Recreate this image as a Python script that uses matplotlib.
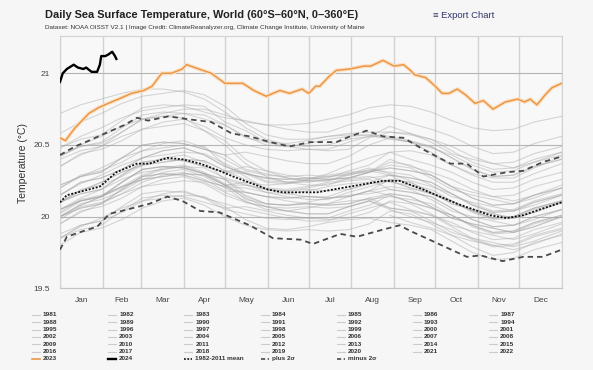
import matplotlib
matplotlib.use("Agg")
import matplotlib.pyplot as plt
from matplotlib.lines import Line2D

plt.rcParams['font.family'] = ['Liberation Sans', 'DejaVu Sans']

# month layout (day of year)
month_names = ['Jan', 'Feb', 'Mar', 'Apr', 'May', 'Jun', 'Jul', 'Aug', 'Sep', 'Oct', 'Nov', 'Dec']
month_starts = [0, 31, 59, 90, 120, 151, 181, 212, 243, 273, 304, 334, 365]
month_mids = [15.5, 45, 74.5, 105, 135.5, 166, 196.5, 227.5, 258, 288.5, 319, 349.5]

# sampling days for the grey years
gray_days = [0, 15, 30, 45, 60, 75, 90, 105, 120, 135, 150, 165, 180, 195, 210,
             225, 240, 255, 270, 285, 300, 315, 330, 345, 365]

# yearly SST (deg C)
y1981 = [20.01, 19.96, 19.92, 19.87, 19.79, 19.73, 19.75, 19.82, 19.87]  # from late Aug
y1982 = [19.85, 19.94, 19.97, 20.03, 20.11, 20.16, 20.18, 20.13, 20.05, 20.02, 19.99, 19.98, 19.99, 19.98, 19.99, 20.03, 20.11, 20.09, 20.02, 19.94, 19.90, 19.87, 19.84, 19.88, 19.95]
y1983 = [20.05, 20.11, 20.14, 20.24, 20.33, 20.35, 20.34, 20.30, 20.22, 20.13, 20.07, 20.04, 20.02, 20.02, 20.07, 20.11, 20.05, 20.00, 19.96, 19.91, 19.84, 19.79, 19.80, 19.86, 19.91]
y1984 = [19.85, 19.93, 19.99, 20.06, 20.11, 20.13, 20.15, 20.14, 20.07, 19.98, 19.92, 19.91, 19.93, 19.96, 19.98, 19.99, 19.96, 19.94, 19.91, 19.83, 19.75, 19.70, 19.71, 19.77, 19.82]
y1985 = [19.80, 19.89, 19.92, 19.98, 20.06, 20.11, 20.13, 20.08, 20.00, 19.94, 19.91, 19.90, 19.91, 19.90, 19.91, 19.95, 20.04, 20.02, 19.95, 19.87, 19.83, 19.80, 19.77, 19.81, 19.88]
y1986 = [19.85, 19.91, 19.94, 20.04, 20.13, 20.15, 20.14, 20.10, 20.06, 20.07, 20.04, 20.01, 19.99, 19.99, 20.04, 20.08, 20.15, 20.10, 20.06, 20.01, 19.94, 19.89, 19.90, 19.96, 20.01]
y1987 = [20.05, 20.13, 20.19, 20.26, 20.31, 20.33, 20.35, 20.34, 20.27, 20.23, 20.17, 20.16, 20.18, 20.21, 20.23, 20.24, 20.29, 20.27, 20.24, 20.16, 20.08, 20.03, 20.04, 20.10, 20.15]
y1988 = [20.10, 20.19, 20.22, 20.28, 20.36, 20.41, 20.43, 20.38, 20.26, 20.14, 20.09, 20.08, 20.09, 20.08, 20.09, 20.13, 20.06, 20.04, 19.97, 19.89, 19.85, 19.82, 19.79, 19.83, 19.90]
y1989 = [19.88, 19.94, 19.97, 20.07, 20.16, 20.18, 20.17, 20.13, 20.09, 20.05, 20.02, 19.99, 19.97, 19.97, 20.02, 20.06, 20.10, 20.05, 20.01, 19.96, 19.89, 19.84, 19.85, 19.91, 19.96]
y1990 = [20.00, 20.08, 20.14, 20.21, 20.26, 20.28, 20.30, 20.29, 20.22, 20.15, 20.09, 20.08, 20.10, 20.13, 20.15, 20.16, 20.19, 20.17, 20.14, 20.06, 19.98, 19.93, 19.94, 20.00, 20.05]
y1991 = [20.00, 20.09, 20.12, 20.18, 20.26, 20.31, 20.33, 20.28, 20.20, 20.17, 20.14, 20.13, 20.14, 20.13, 20.14, 20.18, 20.21, 20.19, 20.12, 20.04, 20.00, 19.97, 19.94, 19.98, 20.05]
y1992 = [20.00, 20.06, 20.09, 20.19, 20.28, 20.30, 20.29, 20.25, 20.21, 20.10, 20.07, 20.04, 20.02, 20.02, 20.07, 20.11, 20.06, 20.04, 20.01, 19.93, 19.85, 19.80, 19.81, 19.87, 19.92]
y1993 = [19.95, 20.03, 20.09, 20.16, 20.21, 20.23, 20.25, 20.24, 20.17, 20.11, 20.05, 20.04, 20.06, 20.09, 20.11, 20.12, 20.14, 20.12, 20.09, 20.01, 19.93, 19.88, 19.89, 19.95, 20.00]
y1994 = [19.98, 20.07, 20.10, 20.16, 20.24, 20.29, 20.31, 20.26, 20.18, 20.17, 20.14, 20.13, 20.14, 20.13, 20.14, 20.18, 20.26, 20.24, 20.17, 20.09, 20.05, 20.02, 19.99, 20.03, 20.10]
y1995 = [20.05, 20.11, 20.14, 20.24, 20.33, 20.35, 20.34, 20.30, 20.26, 20.17, 20.14, 20.11, 20.09, 20.09, 20.14, 20.18, 20.15, 20.10, 20.06, 20.01, 19.94, 19.89, 19.90, 19.96, 20.01]
y1996 = [19.95, 20.04, 20.07, 20.13, 20.21, 20.26, 20.28, 20.23, 20.15, 20.10, 20.07, 20.06, 20.07, 20.06, 20.07, 20.11, 20.16, 20.14, 20.07, 19.99, 19.95, 19.92, 19.89, 19.93, 20.00]
y1997 = [20.00, 20.08, 20.14, 20.21, 20.26, 20.28, 20.30, 20.29, 20.22, 20.24, 20.22, 20.23, 20.26, 20.30, 20.36, 20.41, 20.45, 20.46, 20.43, 20.36, 20.29, 20.24, 20.24, 20.30, 20.37]
y1998 = [20.40, 20.46, 20.49, 20.59, 20.68, 20.70, 20.69, 20.60, 20.53, 20.40, 20.32, 20.27, 20.25, 20.25, 20.29, 20.32, 20.29, 20.22, 20.16, 20.11, 20.04, 19.99, 20.00, 20.06, 20.11]
y1999 = [20.03, 20.12, 20.15, 20.21, 20.29, 20.34, 20.36, 20.31, 20.23, 20.12, 20.09, 20.08, 20.09, 20.08, 20.09, 20.13, 20.16, 20.14, 20.07, 19.99, 19.95, 19.92, 19.89, 19.93, 20.00]
y2000 = [20.00, 20.06, 20.09, 20.19, 20.28, 20.30, 20.29, 20.25, 20.21, 20.20, 20.17, 20.14, 20.12, 20.12, 20.17, 20.21, 20.25, 20.20, 20.16, 20.11, 20.04, 19.99, 20.00, 20.06, 20.11]
y2001 = [20.10, 20.18, 20.24, 20.31, 20.36, 20.38, 20.40, 20.39, 20.32, 20.26, 20.20, 20.19, 20.21, 20.24, 20.26, 20.27, 20.29, 20.27, 20.24, 20.16, 20.08, 20.03, 20.04, 20.10, 20.15]
y2002 = [20.15, 20.24, 20.27, 20.33, 20.41, 20.46, 20.48, 20.43, 20.35, 20.30, 20.27, 20.26, 20.27, 20.26, 20.27, 20.31, 20.36, 20.34, 20.27, 20.19, 20.15, 20.12, 20.09, 20.13, 20.20]
y2003 = [20.22, 20.28, 20.31, 20.41, 20.50, 20.52, 20.51, 20.47, 20.43, 20.33, 20.30, 20.27, 20.25, 20.25, 20.30, 20.34, 20.30, 20.25, 20.21, 20.16, 20.09, 20.04, 20.05, 20.11, 20.16]
y2004 = [20.15, 20.23, 20.29, 20.36, 20.41, 20.43, 20.45, 20.44, 20.37, 20.30, 20.24, 20.23, 20.25, 20.28, 20.30, 20.31, 20.34, 20.32, 20.29, 20.21, 20.13, 20.08, 20.09, 20.15, 20.20]
y2005 = [20.20, 20.29, 20.32, 20.38, 20.46, 20.51, 20.53, 20.48, 20.40, 20.32, 20.29, 20.28, 20.29, 20.28, 20.29, 20.33, 20.31, 20.29, 20.22, 20.14, 20.10, 20.07, 20.04, 20.08, 20.15]
y2006 = [20.10, 20.16, 20.19, 20.29, 20.38, 20.40, 20.39, 20.35, 20.31, 20.30, 20.27, 20.24, 20.22, 20.22, 20.27, 20.31, 20.40, 20.35, 20.31, 20.26, 20.19, 20.14, 20.15, 20.21, 20.26]
y2007 = [20.20, 20.28, 20.34, 20.41, 20.46, 20.48, 20.50, 20.49, 20.36, 20.28, 20.19, 20.18, 20.20, 20.23, 20.25, 20.26, 20.19, 20.17, 20.14, 20.06, 19.98, 19.93, 19.94, 20.00, 20.05]
y2008 = [20.02, 20.11, 20.14, 20.20, 20.28, 20.33, 20.35, 20.30, 20.22, 20.22, 20.19, 20.18, 20.19, 20.18, 20.19, 20.23, 20.26, 20.24, 20.17, 20.09, 20.05, 20.02, 19.99, 20.03, 20.10]
y2009 = [20.10, 20.16, 20.19, 20.29, 20.38, 20.40, 20.39, 20.35, 20.31, 20.35, 20.32, 20.29, 20.27, 20.27, 20.32, 20.36, 20.45, 20.40, 20.36, 20.31, 20.24, 20.19, 20.20, 20.26, 20.31]
y2010 = [20.35, 20.43, 20.49, 20.56, 20.61, 20.63, 20.65, 20.60, 20.50, 20.37, 20.28, 20.24, 20.24, 20.26, 20.27, 20.28, 20.24, 20.22, 20.19, 20.11, 20.03, 19.98, 19.99, 20.05, 20.10]
y2011 = [20.05, 20.11, 20.14, 20.24, 20.33, 20.35, 20.34, 20.30, 20.26, 20.22, 20.19, 20.16, 20.14, 20.14, 20.19, 20.23, 20.25, 20.20, 20.16, 20.11, 20.04, 19.99, 20.00, 20.06, 20.11]
y2012 = [20.10, 20.18, 20.24, 20.31, 20.36, 20.38, 20.40, 20.39, 20.32, 20.31, 20.25, 20.24, 20.26, 20.29, 20.31, 20.32, 20.34, 20.32, 20.29, 20.21, 20.13, 20.08, 20.09, 20.15, 20.20]
y2013 = [20.15, 20.24, 20.27, 20.33, 20.41, 20.46, 20.48, 20.43, 20.35, 20.30, 20.27, 20.26, 20.27, 20.26, 20.27, 20.31, 20.38, 20.36, 20.29, 20.21, 20.17, 20.14, 20.11, 20.15, 20.22]
y2014 = [20.22, 20.28, 20.31, 20.41, 20.50, 20.52, 20.51, 20.47, 20.43, 20.45, 20.42, 20.39, 20.37, 20.37, 20.42, 20.50, 20.55, 20.52, 20.48, 20.43, 20.36, 20.31, 20.32, 20.38, 20.43]
y2015 = [20.42, 20.49, 20.51, 20.59, 20.68, 20.72, 20.75, 20.75, 20.71, 20.66, 20.64, 20.64, 20.65, 20.68, 20.71, 20.76, 20.78, 20.77, 20.73, 20.67, 20.62, 20.60, 20.61, 20.66, 20.70]
y2016 = [20.72, 20.78, 20.82, 20.86, 20.89, 20.89, 20.87, 20.82, 20.73, 20.62, 20.54, 20.50, 20.49, 20.50, 20.54, 20.56, 20.55, 20.52, 20.45, 20.36, 20.30, 20.27, 20.27, 20.34, 20.42]
y2017 = [20.42, 20.50, 20.56, 20.63, 20.68, 20.70, 20.72, 20.71, 20.64, 20.56, 20.50, 20.49, 20.51, 20.54, 20.56, 20.57, 20.54, 20.52, 20.49, 20.41, 20.33, 20.28, 20.29, 20.35, 20.40]
y2018 = [20.35, 20.44, 20.47, 20.53, 20.61, 20.66, 20.68, 20.63, 20.55, 20.50, 20.47, 20.46, 20.47, 20.46, 20.47, 20.55, 20.59, 20.58, 20.52, 20.44, 20.40, 20.37, 20.34, 20.38, 20.45]
y2019 = [20.48, 20.54, 20.57, 20.67, 20.76, 20.78, 20.77, 20.73, 20.69, 20.67, 20.64, 20.61, 20.59, 20.59, 20.64, 20.68, 20.70, 20.65, 20.61, 20.56, 20.49, 20.44, 20.45, 20.51, 20.56]
y2020 = [20.58, 20.66, 20.72, 20.79, 20.84, 20.86, 20.88, 20.85, 20.77, 20.65, 20.57, 20.54, 20.54, 20.56, 20.57, 20.57, 20.56, 20.53, 20.49, 20.41, 20.33, 20.28, 20.29, 20.35, 20.40]
y2021 = [20.43, 20.49, 20.52, 20.62, 20.71, 20.73, 20.72, 20.68, 20.64, 20.55, 20.52, 20.49, 20.47, 20.47, 20.52, 20.56, 20.63, 20.58, 20.54, 20.49, 20.42, 20.37, 20.38, 20.44, 20.49]
y2022 = [20.48, 20.56, 20.62, 20.69, 20.74, 20.76, 20.78, 20.77, 20.66, 20.60, 20.52, 20.51, 20.53, 20.56, 20.58, 20.59, 20.59, 20.57, 20.54, 20.46, 20.38, 20.33, 20.34, 20.40, 20.45]

gray_years = [1981, 1982, 1983, 1984, 1985, 1986, 1987, 1988, 1989, 1990, 1991,
              1992, 1993, 1994, 1995, 1996, 1997, 1998, 1999, 2000, 2001, 2002,
              2003, 2004, 2005, 2006, 2007, 2008, 2009, 2010, 2011, 2012, 2013,
              2014, 2015, 2016, 2017, 2018, 2019, 2020, 2021, 2022]
gray_vals = [y1981, y1982, y1983, y1984, y1985, y1986, y1987, y1988, y1989, y1990, y1991,
             y1992, y1993, y1994, y1995, y1996, y1997, y1998, y1999, y2000, y2001, y2002,
             y2003, y2004, y2005, y2006, y2007, y2008, y2009, y2010, y2011, y2012, y2013,
             y2014, y2015, y2016, y2017, y2018, y2019, y2020, y2021, y2022]

days_2023 = [0, 4, 7, 11, 21, 28, 35, 45, 52, 61, 67, 74, 81, 89, 92, 101, 110, 120, 127, 133,
             141, 150, 160, 167, 176, 181, 186, 189, 196, 201, 211, 221, 226, 235, 243, 250,
             255, 258, 266, 273, 278, 283, 289, 295, 302, 308, 315, 324, 333, 338, 342, 347,
             353, 358, 365]
vals_2023 = [20.55, 20.53, 20.57, 20.62, 20.72, 20.76, 20.79, 20.83, 20.86, 20.88, 20.91, 21.00,
             21.00, 21.03, 21.06, 21.03, 21.00, 20.93, 20.93, 20.93, 20.88, 20.84, 20.88, 20.86,
             20.89, 20.86, 20.91, 20.91, 20.98, 21.02, 21.03, 21.05, 21.05, 21.09, 21.05, 21.06,
             21.02, 20.99, 20.97, 20.91, 20.86, 20.86, 20.89, 20.85, 20.79, 20.81, 20.75, 20.80,
             20.82, 20.80, 20.82, 20.78, 20.85, 20.90, 20.93]

days_2024 = [0, 2, 5, 10, 13, 17, 19, 23, 27, 29, 30, 33, 35, 38, 40, 41]
vals_2024 = [20.94, 21.00, 21.03, 21.06, 21.04, 21.03, 21.04, 21.01, 21.01, 21.06, 21.12,
             21.12, 21.13, 21.15, 21.12, 21.10]

days_mean = [0, 5, 29, 41, 56, 65, 78, 89, 102, 116, 126, 151, 162, 187, 211, 235, 247,
             264, 289, 313, 325, 337, 349, 365]
vals_mean = [20.10, 20.15, 20.21, 20.31, 20.37, 20.37, 20.41, 20.40, 20.37, 20.32, 20.28,
             20.19, 20.17, 20.17, 20.21, 20.25, 20.25, 20.19, 20.09, 20.01, 19.99, 20.01,
             20.05, 20.10]

days_plus = [0, 11, 21, 35, 47, 56, 64, 79, 93, 110, 125, 138, 153, 167, 182, 201, 211,
             223, 235, 250, 264, 284, 296, 308, 325, 337, 351, 365]
vals_plus = [20.43, 20.49, 20.53, 20.59, 20.64, 20.69, 20.67, 20.70, 20.68, 20.66, 20.58,
             20.56, 20.52, 20.49, 20.52, 20.52, 20.56, 20.60, 20.56, 20.55, 20.47, 20.37,
             20.37, 20.28, 20.31, 20.32, 20.38, 20.42]

days_minus = [0, 5, 17, 27, 36, 49, 65, 78, 89, 102, 116, 138, 155, 175, 184, 204, 216,
              235, 247, 255, 271, 296, 306, 322, 337, 351, 365]
vals_minus = [19.77, 19.86, 19.90, 19.93, 20.02, 20.05, 20.09, 20.14, 20.11, 20.04, 20.03,
              19.94, 19.85, 19.84, 19.81, 19.88, 19.86, 19.91, 19.94, 19.90, 19.83, 19.72,
              19.73, 19.69, 19.72, 19.72, 19.77]

GRAY = '#a8a8a8'
ORANGE = '#ec9745'
MEAN_DASH = (1.1, 0.9)
SIGMA_DASH = (3.0, 2.2)

fig = plt.figure(figsize=(5.93, 3.70), dpi=100, facecolor='#f6f6f6')
ax = fig.add_axes([60 / 593, 1 - 288.4 / 370, 501.7 / 593, 252.4 / 370])
ax.set_facecolor('#f8f8f8')

for yr, vals in zip(gray_years, gray_vals):
    ax.plot(gray_days[-len(vals):], vals, color=GRAY, lw=0.8, alpha=0.45, zorder=2)

ax.plot(days_plus, vals_plus, color='#4a4a4a', lw=1.3, dashes=SIGMA_DASH, zorder=3)
ax.plot(days_minus, vals_minus, color='#4a4a4a', lw=1.3, dashes=SIGMA_DASH, zorder=3)
ax.plot(days_mean, vals_mean, color='#111111', lw=1.3, dashes=MEAN_DASH, zorder=3)

ax.plot(days_2023, vals_2023, color='#fbe1c6', lw=2.8, zorder=4, solid_capstyle='round')
ax.plot(days_2023, vals_2023, color=ORANGE, lw=1.1, zorder=5)
ax.plot(days_2024, vals_2024, color='black', lw=1.7, zorder=6)

ax.set_xlim(0, 365)
ax.set_ylim(19.5, 21.26)
ax.set_xticks(month_mids)
ax.set_xticklabels(month_names)
ax.set_xticks(month_starts, minor=True)
ax.set_yticks([19.5, 20, 20.5, 21])
ax.set_yticklabels(['19.5', '20', '20.5', '21'])
ax.tick_params(axis='x', which='both', length=0, pad=6, labelsize=6, labelcolor='#444444')
ax.tick_params(axis='y', length=0, pad=7, labelsize=6, labelcolor='#444444')
ax.grid(axis='x', which='minor', color='#d2d2d2', lw=1.0, zorder=1)
ax.grid(axis='y', which='major', color='#b4b4b4', lw=0.8, zorder=1)
ax.grid(axis='x', which='major', visible=False)
ax.set_axisbelow(True)
for side in ['left', 'right', 'top']:
    ax.spines[side].set_color('#d2d2d2')
ax.spines['bottom'].set_color('#c4c4c4')

fig.text(45 / 593, 1 - 15 / 370, 'Daily Sea Surface Temperature, World (60°S–60°N, 0–360°E)',
         fontsize=7.9, weight='bold', color='#222222', va='center', ha='left')
fig.text(45 / 593, 1 - 28 / 370,
         'Dataset: NOAA OISST V2.1 | Image Credit: ClimateReanalyzer.org, Climate Change Institute, University of Maine',
         fontsize=4.55, color='#333333', va='center', ha='left')
fig.text(433 / 593, 1 - 15 / 370, '≡ Export Chart', fontsize=6.8, color='#33336b',
         va='center', ha='left')
fig.text(23 / 593, 1 - 163 / 370, 'Temperature (°C)', rotation=90, fontsize=7.5,
         color='#333333', va='center', ha='center')

# legend, filled row by row in 7 columns
legend_items = [(str(yr), dict(color='#cccccc', lw=0.8)) for yr in gray_years]
legend_items.append(('2023', dict(color=ORANGE, lw=1.2)))
legend_items.append(('2024', dict(color='black', lw=1.7)))
legend_items.append(('1982-2011 mean', dict(color='#111111', lw=1.2, dashes=MEAN_DASH)))
legend_items.append(('plus 2σ', dict(color='#4a4a4a', lw=1.2, dashes=(2.5, 1.5))))
legend_items.append(('minus 2σ', dict(color='#4a4a4a', lw=1.2, dashes=(2.5, 1.5))))

for i, (label, style) in enumerate(legend_items):
    col, row = i % 7, i // 7
    x0 = (32 + 76.2 * col) / 593
    y0 = 1 - (315 + 7.33 * row) / 370
    fig.add_artist(Line2D([x0, x0 + 8 / 593], [y0, y0], transform=fig.transFigure, **style))
    fig.text(x0 + 11 / 593, y0, label, fontsize=4.6, weight='bold', color='#333333',
             va='center', ha='left')

fig.savefig('out.png', dpi=100, facecolor=fig.get_facecolor())
